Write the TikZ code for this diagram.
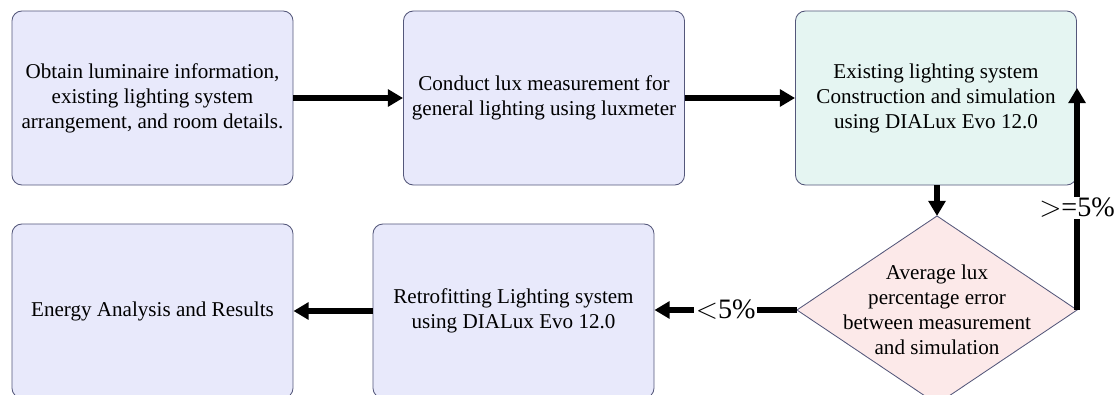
\documentclass[tikz,border=0pt]{standalone}
\usepackage{fontspec}
\setmainfont{Liberation Serif}
\usepackage{tikz}
\usetikzlibrary{shapes.geometric}
\usetikzlibrary{arrows.meta}
\definecolor{BoxLavender}{HTML}{E8E9FB}
\definecolor{BoxMint}{HTML}{E5F5F2}
\definecolor{BoxPink}{HTML}{FCE9E9}
\definecolor{BoxBorder}{HTML}{54577A}
\tikzstyle{stage} = [draw=BoxBorder, line width=0.6pt, rounded corners=0.25cm, fill=BoxLavender,
  minimum width=7.025cm, minimum height=4.35cm, align=center, inner sep=0pt,
  font=\fontsize{15}{17.8}\selectfont]
\tikzstyle{decide} = [draw=BoxBorder, line width=0.6pt, diamond, fill=BoxPink, aspect=1.49,
  minimum width=7cm, minimum height=4.7cm, inner sep=0pt, outer sep=0pt]
\tikzstyle{decidetext} = [align=center, inner sep=0pt, font=\fontsize{15}{17.8}\selectfont]
\tikzstyle{flow} = [line width=4.3pt, -{Triangle[length=0.38cm,width=0.42cm]}]
\tikzstyle{cond} = [fill=white, inner sep=1pt, font=\fontsize{20}{24}\selectfont]

\begin{document}
\begin{tikzpicture}[x=0.025cm,y=-0.025cm]

	\useasboundingbox (0,0) rectangle (1115,394);

	% Top row
	\node[stage] (obtain) at (152.5,98) {Obtain luminaire information,\\ existing lighting system\\ arrangement, and room details.};
	\node[stage] (measure) at (544,98) {Conduct lux measurement for\\ general lighting using luxmeter};
	\node[stage, fill=BoxMint] (simulate) at (936,98) {Existing lighting system\\ Construction and simulation\\ using DIALux Evo 12.0};

	% Bottom row
	\node[decide] (error) at (937,310) {};
	\node[decidetext] (errortext) at (error) {Average lux\\ percentage error\\ between measurement\\ and simulation};
	\node[stage] (retrofit) at (513.5,311) {Retrofitting Lighting system\\ using DIALux Evo 12.0};
	\node[stage] (energy) at (152.5,311) {Energy Analysis and Results};

	\coordinate (back) at (1077,88);

	% Connectors
	\draw[flow] (obtain) -- (measure);
	\draw[flow] (measure) -- (simulate);
	\draw[flow] (simulate.south -| error.north) -- (error.north);
	\draw[flow] (error.east) -- (error.east |- back) node[pos=0.46, cond] {$>$=5\%};
	\draw[flow] (error.west) -- (error.west -| retrofit.east) node[pos=0.5, cond] {$<$5\%};
	\draw[flow] (retrofit) -- (energy);

\end{tikzpicture}
\end{document}
